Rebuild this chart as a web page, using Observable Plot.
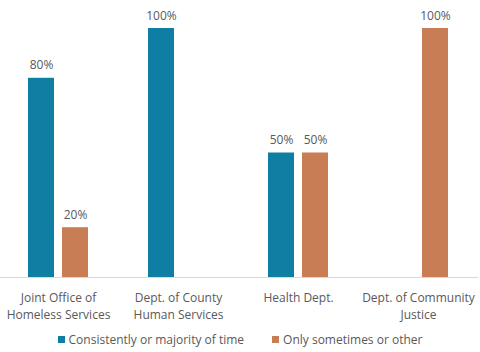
<!DOCTYPE html>
<html><head><meta charset="utf-8">
<script src="https://cdn.jsdelivr.net/npm/d3@7"></script>
<script src="https://cdn.jsdelivr.net/npm/@observablehq/plot@0.6"></script>
<style>
body{margin:0;background:#fff;font-family:"Open Sans",sans-serif;}
#legend{display:flex;justify-content:center;gap:28px;font-size:12px;color:#595959;height:26px;align-items:center;padding-left:0;}
#legend span.item{display:flex;align-items:center;}
.sw{display:inline-block;width:7px;height:7px;margin-right:4px;}
</style></head><body><div id="chart"></div><div id="legend"></div>
<script>
const categories = ["Joint Office of\nHomeless Services","Dept. of County\nHuman Services","Health Dept.","Dept. of Community\nJustice"];
const series = ["Consistently or majority of time","Only sometimes or other"];
const consistently = [80, 100, 50, null];
const sometimes = [20, null, 50, 100];
const colors = ["#0e7fa2", "#c87d55"];

const rowsA = categories.map((c, i) => ({cat: c, value: consistently[i]})).filter(d => d.value != null);
const rowsB = categories.map((c, i) => ({cat: c, value: sometimes[i]})).filter(d => d.value != null);

const chart = Plot.plot({
  width: 480, height: 326,
  marginTop: 28, marginBottom: 49, marginLeft: 0, marginRight: 2,
  x: {domain: categories, range: [-2, 478], padding: 0, label: null},
  y: {domain: [0, 100], axis: null},
  style: {fontFamily: "Open Sans, sans-serif", fontSize: "12px", color: "#595959", background: "#fff"},
  marks: [
    Plot.barY(rowsA, {x: "cat", y: "value", fill: colors[0], insetLeft: 30, insetRight: 64}),
    Plot.barY(rowsB, {x: "cat", y: "value", fill: colors[1], insetLeft: 64, insetRight: 30}),
    Plot.text(rowsA, {x: "cat", y: "value", text: d => d.value + "%", dx: -17, dy: -9, lineAnchor: "bottom", fill: "#595959", fontSize: 12}),
    Plot.text(rowsB, {x: "cat", y: "value", text: d => d.value + "%", dx: 17, dy: -9, lineAnchor: "bottom", fill: "#595959", fontSize: 12}),
    Plot.ruleY([0], {stroke: "#d9d9d9"}),
    Plot.axisX({tickSize: 0, tickPadding: 13, fontSize: 12, lineHeight: 1.4, fill: "#595959", label: null})
  ]
});
document.getElementById("chart").appendChild(chart);

const legend = document.getElementById("legend");
series.forEach((s, i) => {
  const item = document.createElement("span");
  item.className = "item";
  item.innerHTML = `<span class="sw" style="background:${colors[i]}"></span>${s}`;
  legend.appendChild(item);
});
</script></body></html>
